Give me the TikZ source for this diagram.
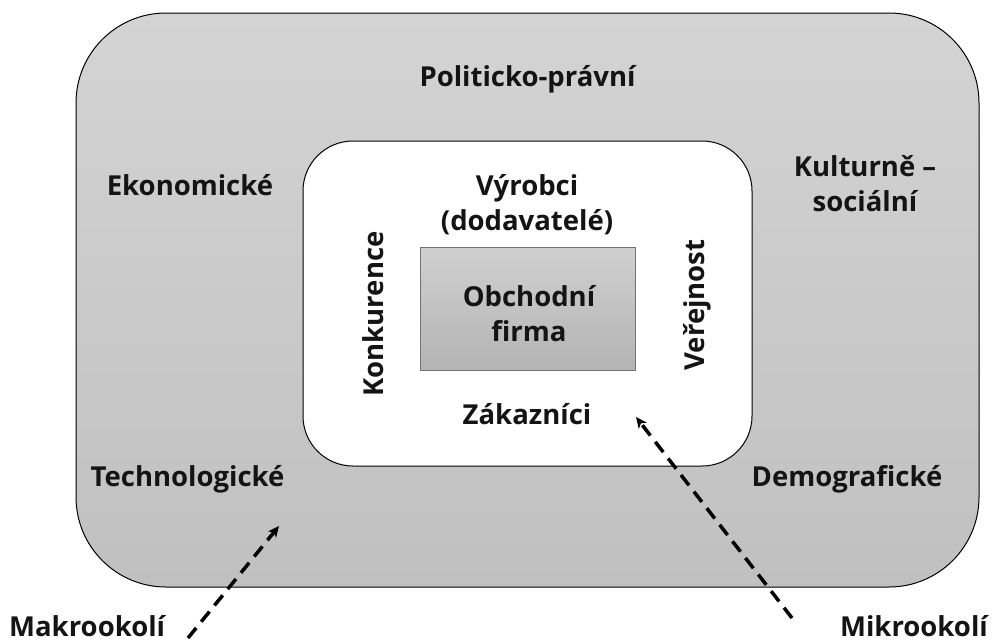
\documentclass[tikz,border=0pt]{standalone}
\usepackage{fontspec}
\setmainfont{Open Sans}
\usepackage{tikz}
\usetikzlibrary{arrows.meta,positioning}
\definecolor{envTop}{RGB}{212,212,212}
\definecolor{envBot}{RGB}{192,192,192}
\definecolor{firmTop}{RGB}{208,208,208}
\definecolor{firmBot}{RGB}{180,180,180}
\tikzset{
  envbox/.style={rectangle, rounded corners=#1, draw=black, line width=1pt},
  lbl/.style={font=\fontsize{27.5}{35}\selectfont\bfseries, align=center, text=black!92, inner sep=0pt},
  pointer/.style={-{Stealth[length=11pt,width=10pt,inset=3pt]}, dash pattern=on 13pt off 8pt, line width=3.5pt},
}
\begin{document}
\begin{tikzpicture}[x=1pt,y=-1pt]
    \useasboundingbox (0,0) rectangle (992,643);

    % macro environment
    \node[envbox=90pt, top color=envTop, bottom color=envBot,
          minimum width=903pt, minimum height=574pt] (makro) at (527.5,300) {};
    % micro environment
    \node[envbox=50pt, fill=white, minimum width=449pt, minimum height=325pt] (mikro) at (527.5,303.5) {};
    % firm
    \node[rectangle, draw=black!55, line width=0.8pt, top color=firmTop, bottom color=firmBot,
          minimum width=215pt, minimum height=123pt] (firma) at (527.5,308.5) {};
    \node[lbl] (firmaText) at (529,314) {Obchodní\\firma};

    % macro factors
    \node[lbl] (politic) at (527.5,79) {Politicko-právní};
    \node[lbl] (ekonom) at (190,185) {Ekonomické};
    \node[lbl] (kultur) at (865,184) {Kulturně –\\sociální};
    \node[lbl] (technol) at (187.5,479) {Technologické};
    \node[lbl] (demogr) at (847,479) {Demografické};

    % micro factors
    \node[lbl] (vyrobci) at (527,205) {Výrobci\\(dodavatelé)};
    \node[lbl, rotate=90] (konkur) at (373,314) {Konkurence};
    \node[lbl, rotate=90] (verej) at (697,305) {Veřejnost};
    \node[lbl] (zakaz) at (527,414) {Zákazníci};

    % legend labels
    \node[lbl, anchor=base west] (makroLbl) at (9,636) {Makrookolí};
    \node[lbl, anchor=base east] (mikroLbl) at (988,636) {Mikrookolí};

    % pointers
    \coordinate (makroTip) at (279,526);
    \coordinate (mikroTip) at (636,417);
    \coordinate (makroTail) at (188,638);
    \coordinate (mikroTail) at (792,618);
    \draw[pointer] (makroTail) -- (makroTip);
    \draw[pointer] (mikroTail) -- (mikroTip);
\end{tikzpicture}
\end{document}
